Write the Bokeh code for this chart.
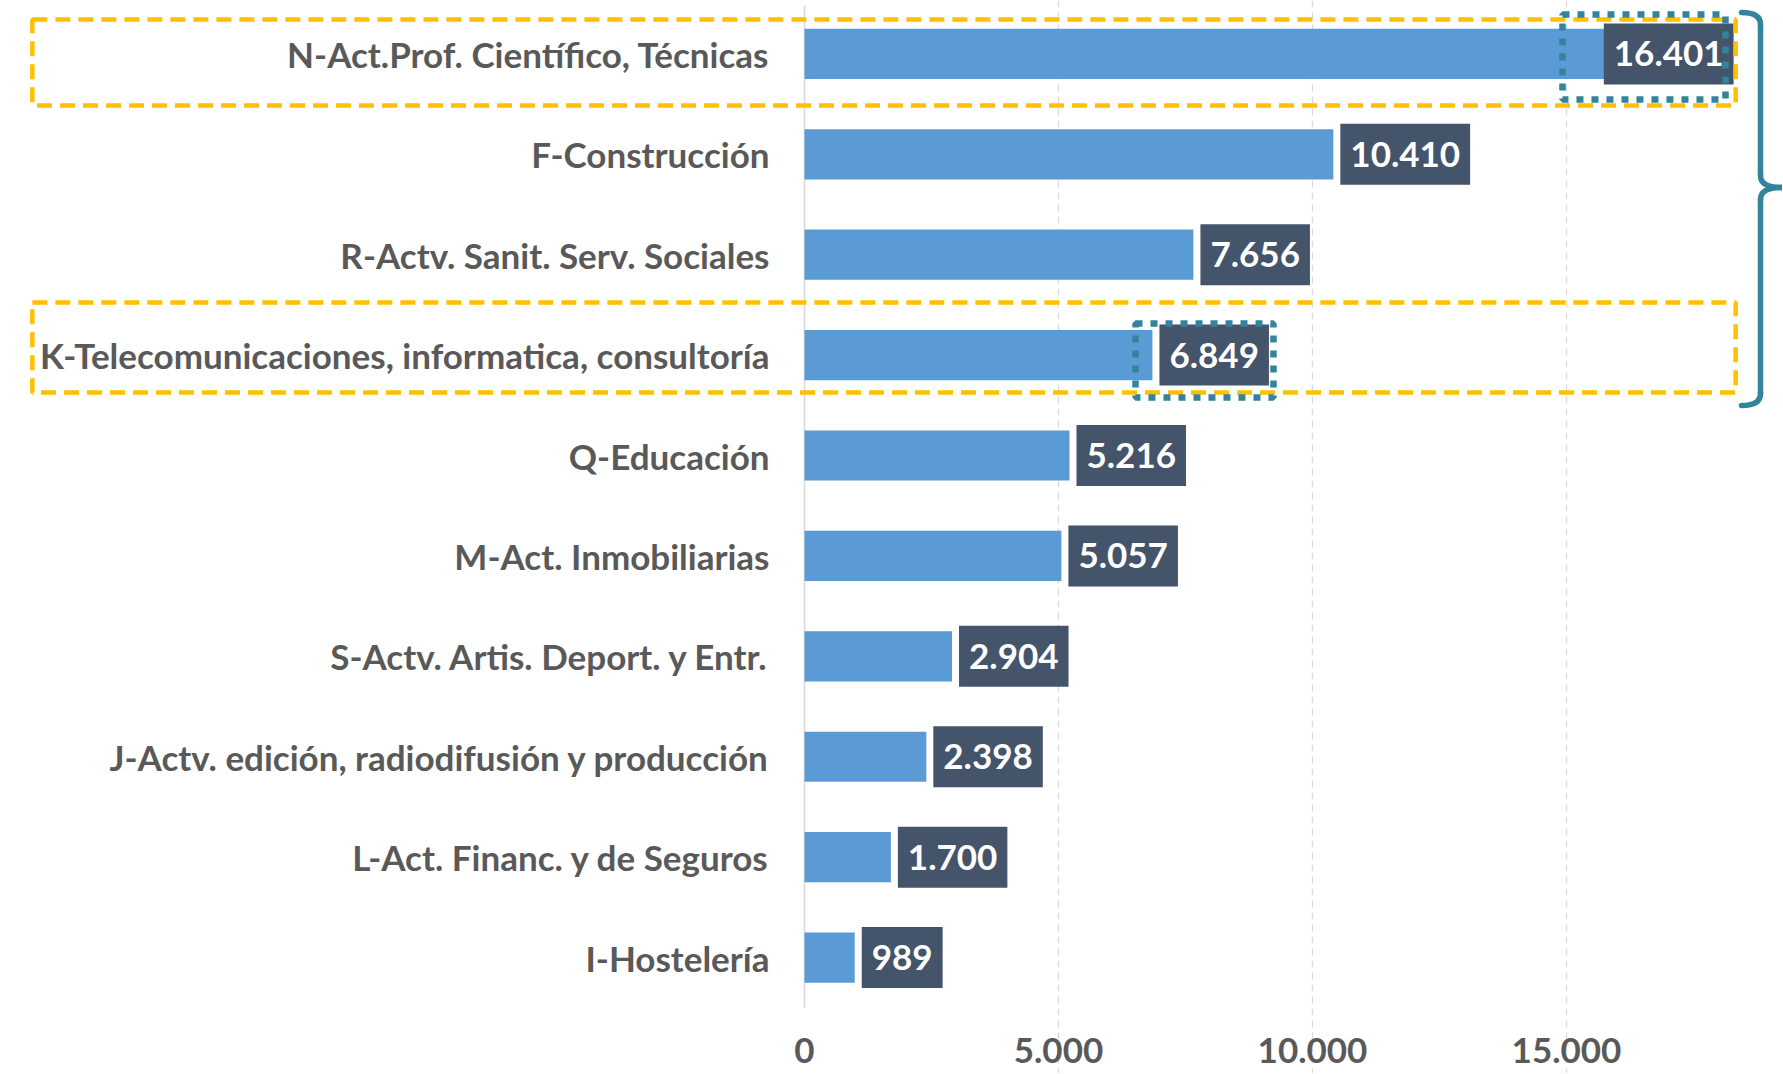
from bokeh.plotting import figure
from bokeh.models import Range1d, FixedTicker, Grid
from bokeh.core.properties import value
from bokeh.embed import file_html
from bokeh.resources import INLINE

# ---------------- data ----------------
categories = [
    "N-Act.Prof. Científico, Técnicas",
    "F-Construcción",
    "R-Actv. Sanit. Serv. Sociales",
    "K-Telecomunicaciones, informatica, consultoría",
    "Q-Educación",
    "M-Act. Inmobiliarias",
    "S-Actv. Artis. Deport. y Entr.",
    "J-Actv. edición, radiodifusión y producción",
    "L-Act. Financ. y de Seguros",
    "I-Hostelería",
]
values = [16401, 10410, 7656, 6849, 5216, 5057, 2904, 2398, 1700, 989]
tick_values = [0, 5000, 10000, 15000]
tick_labels = ["0", "5.000", "10.000", "15.000"]
highlighted = ["N-Act.Prof. Científico, Técnicas",
               "K-Telecomunicaciones, informatica, consultoría"]

# ---------------- style / layout ----------------
FONT = value("Lato")
BAR_COLOR = "#5B9BD5"
LABEL_BG = "#44546A"
TEXT_GRAY = "#595959"
GRID_COLOR = "#D9D9D9"
YELLOW = "#FFC000"
TEAL = "#31849B"

W, H = 1782, 1073
X_START, X_END = -15827, 19252      # full-width frame
Y_TOP, Y_BOTTOM = -0.532, 10.155    # category index units (flipped)
LABEL_LIMIT = 18290                 # right end of original plot area
PX_PER_UNIT = W / (X_END - X_START)

p = figure(width=W, height=H, output_backend="svg", toolbar_location=None,
           x_range=Range1d(X_START, X_END), y_range=Range1d(Y_BOTTOM, Y_TOP),
           x_axis_location=None, y_axis_location=None,
           min_border_left=0, min_border_right=0, min_border_top=0, min_border_bottom=0)
p.outline_line_color = None
p.background_fill_color = "white"
p.grid.visible = False

idx = list(range(len(categories)))

# vertical dashed gridlines
p.add_layout(Grid(dimension=0, ticker=FixedTicker(ticks=tick_values[1:]),
                  grid_line_color=GRID_COLOR, grid_line_width=1.3,
                  grid_line_dash="7 5", bounds=(-0.48, 9.48)), "center")
# zero axis line
p.segment(x0=[tick_values[0]], y0=[-0.48], x1=[tick_values[0]], y1=[9.5],
          line_color=GRID_COLOR, line_width=1.6)

# bars
p.hbar(y=idx, left=0, right=values, height=0.5, fill_color=BAR_COLOR,
       line_color=None)

# category labels
p.text(x=[0] * len(categories), y=idx, text=categories, x_offset=-35,
       text_align="right", text_baseline="middle", text_font=FONT,
       text_font_style="bold", text_font_size="35px", text_color=TEXT_GRAY)

# x tick labels
p.text(x=tick_values, y=[9.93] * len(tick_values), text=tick_labels,
       text_align="center", text_baseline="middle", text_font=FONT,
       text_font_style="bold", text_font_size="35px", text_color=TEXT_GRAY)

# value labels
def fmt(v):
    return f"{v:,}".replace(",", ".")

GAP_PX = 7
out_x, out_y, out_t, in_x, in_y, in_t = [], [], [], [], [], []
for i, v in zip(idx, values):
    t = fmt(v)
    est = (len(t) * 19 + 18 + GAP_PX) / PX_PER_UNIT
    if v + est > LABEL_LIMIT:
        in_x.append(LABEL_LIMIT); in_y.append(i); in_t.append(t)
    else:
        out_x.append(v); out_y.append(i); out_t.append(t)

box_kw = dict(text_font=FONT, text_font_style="bold", text_font_size="35px",
              text_color="white", background_fill_color=LABEL_BG,
              padding=dict(left=10, right=10, top=18, bottom=18))
p.text(x=out_x, y=out_y, text=out_t, x_offset=GAP_PX, anchor="center_left",
       **box_kw)
p.text(x=in_x, y=in_y, text=in_t, anchor="center_right", **box_kw)

# yellow dashed highlight boxes around highlighted rows
hl_idx = [categories.index(c) for c in highlighted]
hl_top_off = [-0.343, -0.524]
hl_bot_off = [0.514, 0.373]
p.quad(left=[-15200] * 2, right=[18330] * 2,
       top=[i + a for i, a in zip(hl_idx, hl_top_off)],
       bottom=[i + b for i, b in zip(hl_idx, hl_bot_off)],
       fill_color=None, line_color=YELLOW, line_width=4.5, line_dash="15 8")

# teal dotted boxes around the highlighted value labels
p.quad(left=[14921, 6516], right=[18130, 9232],
       top=[hl_idx[0] - 0.392, hl_idx[1] - 0.315],
       bottom=[hl_idx[0] + 0.454, hl_idx[1] + 0.422],
       fill_color=None, line_color=TEAL, line_width=6.5, line_dash="7 8")

# curly brace
xa, xm, xt = 18445, 18819, 19230
yt, ym, yb, r = -0.412, 1.33, 3.502, 0.12
bkw = dict(line_color=TEAL, line_width=5.5, line_cap="round")
p.quadratic(x0=[xa, xm, xt, xm], y0=[yt, ym - r, ym, yb - r],
            x1=[xm, xt, xm, xa], y1=[yt + r, ym, ym + r, yb],
            cx=[xm, xm, xm, xm], cy=[yt, ym, ym, yb], **bkw)
p.segment(x0=[xm, xm], y0=[yt + r, ym + r], x1=[xm, xm], y1=[ym - r, yb - r],
          **bkw)

open("out.html", "w").write(file_html(p, INLINE))
